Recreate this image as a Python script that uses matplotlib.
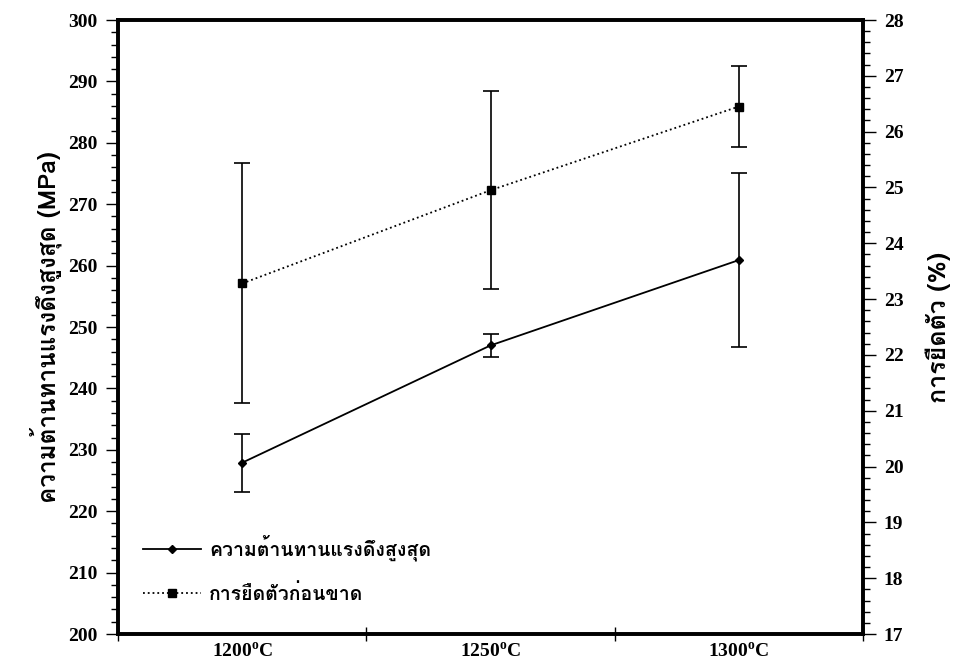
import matplotlib
matplotlib.use("Agg")
import matplotlib.pyplot as plt
from matplotlib import font_manager
from matplotlib.ft2font import FT2Font
from matplotlib.ticker import MultipleLocator, FixedLocator, NullFormatter

# data
temps = ['1200$^{\\mathbf{o}}$C', '1250$^{\\mathbf{o}}$C', '1300$^{\\mathbf{o}}$C']
strength = [227.9, 247.0, 260.9]          # MPa
strength_err = [4.7, 1.9, 14.2]
elong = [23.28, 24.95, 26.45]             # %
elong_err = [2.15, 1.77, 0.73]

label_strength = 'ความต้านทานแรงดึงสูงสุด'
label_elong = 'การยืดตัวก่อนขาด'
ylabel_left = 'ความต้านทานแรงดึงสูงสุด (MPa)'
ylabel_right = 'การยืดตัว (%)'

# find an installed family that has Thai glyphs
thai_fams = []
for f in font_manager.fontManager.ttflist:
    try:
        if ord('ก') in FT2Font(f.fname).get_charmap() and f.name not in thai_fams:
            thai_fams.append(f.name)
    except Exception:
        pass
thai_font = thai_fams[:1] + ['DejaVu Sans']
num_font = ['Liberation Serif', 'DejaVu Serif']

plt.rcParams['mathtext.fontset'] = 'custom'
plt.rcParams['mathtext.rm'] = 'Liberation Serif'
plt.rcParams['mathtext.bf'] = 'Liberation Serif:bold'

fig = plt.figure(figsize=(9.57, 6.69), dpi=100)
ax = fig.add_axes([0.1233, 0.0523, 0.7785, 0.9178])
ax2 = ax.twinx()

xpos = [0.5, 1.5, 2.5]

l1 = ax.errorbar(xpos, strength, yerr=strength_err, color='black', lw=1.3,
                 marker='D', ms=4, capsize=6, capthick=1.2, elinewidth=1.2)
l2 = ax2.errorbar(xpos, elong, yerr=elong_err, color='black', lw=1.3, ls=':',
                  marker='s', ms=5.5, capsize=6, capthick=1.2, elinewidth=1.2)

ax.set_xlim(0, 3)
ax.set_ylim(200, 300)
ax2.set_ylim(17, 28)

ax.xaxis.set_major_locator(FixedLocator([0, 1, 2, 3]))
ax.xaxis.set_major_formatter(NullFormatter())
ax.xaxis.set_minor_locator(FixedLocator(xpos))
ax.set_xticklabels(temps, minor=True)
ax.tick_params(axis='x', which='major', direction='inout', length=10, width=1)
ax.tick_params(axis='x', which='minor', length=0, pad=6)

ax.yaxis.set_major_locator(MultipleLocator(10))
ax.yaxis.set_minor_locator(MultipleLocator(2))
ax.tick_params(axis='y', which='major', direction='out', length=9, width=1, pad=6)
ax.tick_params(axis='y', which='minor', direction='out', length=5, width=1)

ax2.yaxis.set_major_locator(MultipleLocator(1))
ax2.yaxis.set_minor_locator(MultipleLocator(0.2))
ax2.tick_params(axis='y', which='major', direction='out', length=9, width=1, pad=6)
ax2.tick_params(axis='y', which='minor', direction='out', length=5, width=1)

for lab in ax.get_xticklabels(minor=True) + ax.get_yticklabels() + ax2.get_yticklabels():
    lab.set_family(num_font)
    lab.set_fontweight('bold')
    lab.set_fontsize(14)

for a in (ax, ax2):
    for s in a.spines.values():
        s.set_linewidth(2.6)

ax.set_ylabel(ylabel_left, family=thai_font, fontweight='bold', fontsize=17.5, labelpad=4)
ax2.set_ylabel(ylabel_right, family=thai_font, fontweight='bold', fontsize=18,
               rotation=90, labelpad=16)

leg = ax.legend(handles=[l1[0], l2[0]], labels=[label_strength, label_elong],
                loc='lower left', bbox_to_anchor=(0.01, 0.02),
                frameon=False, prop={'family': thai_font, 'weight': 'bold', 'size': 14},
                handlelength=3, handletextpad=0.4, labelspacing=1.2)

fig.savefig('out.png', dpi=100)
